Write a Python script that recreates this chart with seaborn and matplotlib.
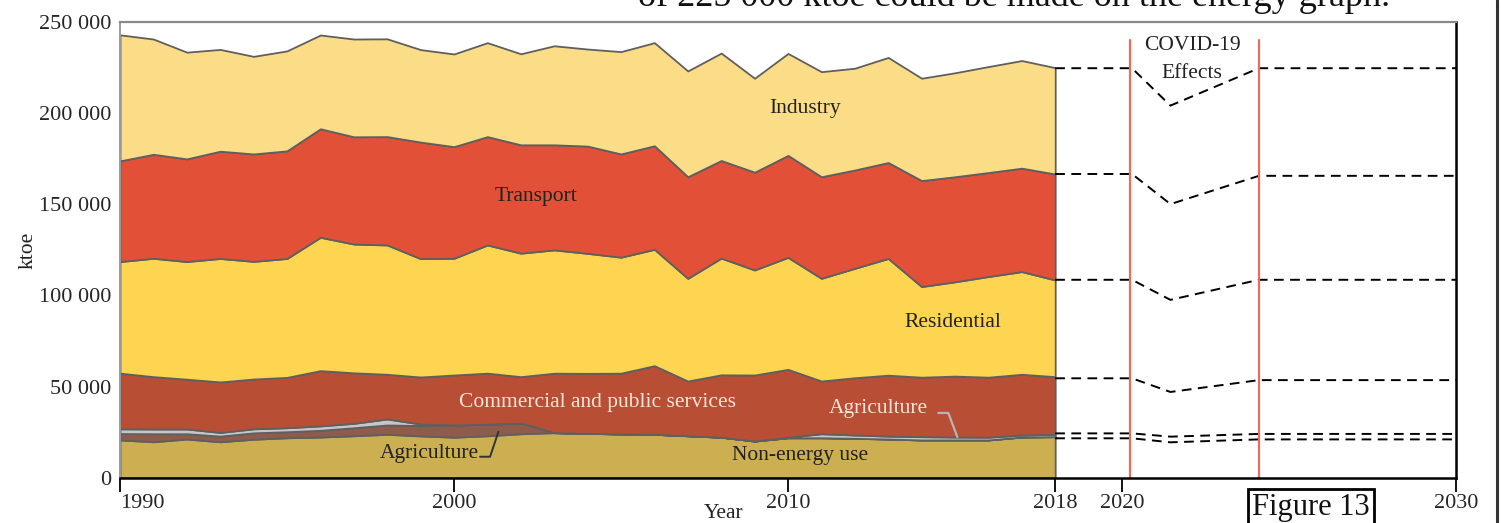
import matplotlib
matplotlib.use("Agg")
import matplotlib.pyplot as plt
import pandas as pd
import seaborn as sns

# final energy consumption by sector, ktoe
years = list(range(1990, 2019))
non_energy = [20700, 19700, 21200, 19700, 21100, 21900, 22300, 23000, 23800, 22900,
              22200, 23000, 24100, 24700, 24300, 24000, 23800, 23000, 22200, 20100,
              21900, 21900, 21600, 21200, 20700, 20700, 20700, 22300, 22500]
agriculture = [3500, 4400, 2900, 3100, 3500, 3300, 3700, 4400, 5100, 5700,
               6700, 6300, 5900, 0, 0, 0, 0, 0, 0, 0,
               0, 0, 0, 0, 0, 0, 0, 0, 0]
agriculture_grey = [2600, 2600, 2600, 2000, 2200, 2200, 2400, 2400, 3300, 800,
                    0, 0, 0, 0, 0, 0, 0, 0, 0, 0,
                    300, 2200, 1800, 1600, 1800, 1600, 1500, 1100, 1300]
commercial = [30500, 28700, 27300, 27700, 27300, 27600, 30300, 27700, 24500, 25800,
              27400, 28000, 25400, 32600, 32900, 33300, 37600, 30000, 34200, 36200,
              37200, 28900, 31400, 33400, 32600, 33400, 32900, 33300, 31600]
residential = [61200, 64900, 64500, 67700, 64500, 65200, 73100, 70600, 70900, 64900,
               64000, 70300, 67700, 67600, 65800, 63600, 63800, 56300, 64000, 57600,
               61400, 56300, 60000, 64000, 49700, 51700, 55200, 56300, 53000]
transport = [55200, 57000, 56300, 58800, 58900, 59000, 59500, 58800, 59400, 63900,
             61200, 59400, 59400, 57600, 58800, 56600, 56800, 55700, 53500, 53600,
             55900, 55700, 53900, 52600, 58100, 57600, 57000, 56700, 58100]
industry = [69100, 63200, 58500, 55800, 53500, 54800, 51400, 53600, 53600, 50700,
            50800, 51500, 49900, 54300, 53200, 56100, 56500, 58000, 58900, 51500,
            55900, 57600, 55800, 57600, 56100, 57000, 58100, 59000, 58300]

# projected cumulative levels with the COVID-19 dip
proj_years = [2018, 2020.3, 2021.45, 2024.1, 2030]
proj_total = [224500, 224500, 204000, 224500, 224500]
proj_transport = [166500, 166500, 150000, 165500, 165500]
proj_residential = [108500, 108500, 97500, 108500, 108500]
proj_commercial = [54500, 54500, 47000, 53500, 53500]
proj_agriculture = [24300, 24300, 22500, 24000, 24000]
proj_non_energy = [21600, 21600, 19400, 21000, 21000]

covid_bounds = [2020.25, 2024.1]
xticks = [1990, 2000, 2010, 2018, 2020, 2030]
yticks = [0, 50000, 100000, 150000, 200000, 250000]

colors = ["#CCAF51", "#8F5C4C", "#C6C6C8", "#B84F35", "#FDD551", "#E25137", "#FCDD87"]

sns.set_theme(style="white")
plt.rcParams["font.family"] = ["Liberation Serif", "DejaVu Serif"]

fig = plt.figure(figsize=(15.03, 5.23), dpi=100)
ax = fig.add_axes([120 / 1503, 1 - 477.7 / 523, 1336 / 1503, 456 / 523])

ax.stackplot(years, non_energy, agriculture, agriculture_grey, commercial,
             residential, transport, industry, colors=colors,
             edgecolor="#5f5f5f", linewidth=1.3)

proj = pd.DataFrame({
    "year": proj_years * 6,
    "value": proj_total + proj_transport + proj_residential
    + proj_commercial + proj_agriculture + proj_non_energy,
    "line": sum([[k] * len(proj_years) for k in range(6)], []),
})
for _, grp in proj.groupby("line"):
    sns.lineplot(data=grp, x="year", y="value", ax=ax, color="black",
                 linewidth=1.4, linestyle=(0, (5, 3.3)), sort=False)

ymax_red = (477.7 - 40) / 456
for xb in covid_bounds:
    ax.axvline(xb, ymin=0, ymax=ymax_red, color="#EE6A5A", linewidth=1.6)

ax.set_xlim(1990, 2030)
ax.set_ylim(0, 250000)
ax.set_xticks(xticks)
ax.set_xticklabels([str(t) for t in xticks])
ax.set_yticks(yticks)
ax.set_yticklabels([f"{t:,}".replace(",", " ") for t in yticks])
ax.tick_params(axis="x", bottom=True, length=10, width=1.3, color="black",
               direction="out", pad=2, labelsize=16)
ax.tick_params(axis="y", left=False, length=0, pad=6, labelsize=16)
ax.get_xticklabels()[0].set_ha("left")
ax.set_xlabel("")
ax.set_ylabel("")

for side, col, lw in [("top", "#8a8a8a", 1.6), ("left", "#9a9a9a", 1.4),
                      ("bottom", "black", 1.8), ("right", "black", 1.8)]:
    ax.spines[side].set_visible(True)
    ax.spines[side].set_color(col)
    ax.spines[side].set_linewidth(lw)

lab = dict(fontsize=15.5, ha="center", va="center")
ax.text(2010.5, 202600, "Industry", color="#222222", **lab)
ax.text(2002.45, 153900, "Transport", color="#222222", **lab)
ax.text(2014.95, 85300, "Residential", color="#222222", **lab)
ax.text(2004.3, 41500, "Commercial and public services", color="#F5E4D8", **lab)
ax.text(2012.7, 37700, "Agriculture", color="#F5E4D8", **lab)
ax.text(1999.25, 13000, "Agriculture", color="#222222", **lab)
ax.text(2010.35, 12400, "Non-energy use", color="#222222", **lab)
ax.text(2022.1, 237100, "COVID-19", color="#222222", **lab)
ax.text(2022.1, 221700, "Effects", color="#222222", **lab)

# leader lines for the two agriculture labels
ax.plot([2000.78, 2001.08, 2001.33], [11500, 11500, 25200], color="#333333", lw=1.4)
ax.plot([2014.5, 2014.8, 2015.07], [35500, 35500, 22300], color="#B5B5B5", lw=1.6)

fig.text(28 / 1503, 1 - 250 / 523, "ktoe", rotation=90, fontsize=15.5,
         ha="center", va="center", color="#222222")
fig.text(724 / 1503, 1 - 513 / 523, "Year", fontsize=15.5,
         ha="center", va="center", color="#222222")
fig.text(1311 / 1503, 1 - 515 / 523, "Figure 13", fontsize=22, ha="center",
         va="baseline", color="#111111",
         bbox=dict(boxstyle="square,pad=0.12", fc="white", ec="black", lw=2))
fig.text(638 / 1503, 1 - 6 / 523, "of 225 000 ktoe could be made on the energy graph.",
         fontsize=26, ha="left", va="baseline", color="#111111")

# page edge on the right
fig.add_artist(plt.Line2D([1496.5 / 1503] * 2, [0, 1], color="#333333", lw=2.2,
                          transform=fig.transFigure))

fig.savefig("out.png", dpi=100)
